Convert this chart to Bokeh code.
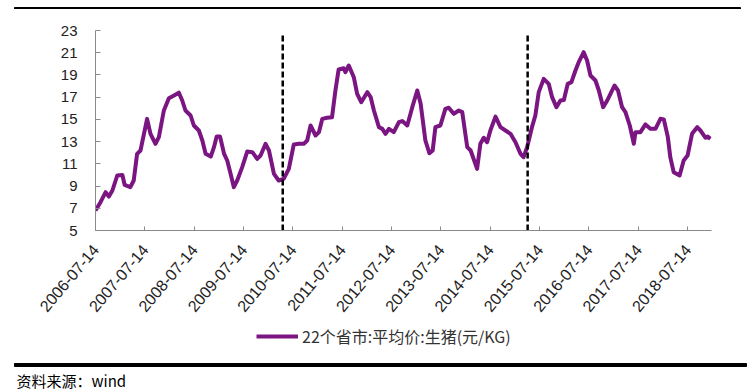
import datetime as dt
from bokeh.plotting import figure
from bokeh.layouts import column
from bokeh.models import (FixedTicker, DatetimeTickFormatter, Legend, LegendItem,
                          Range1d, ColumnDataSource)
from bokeh.core.properties import value
from bokeh.embed import file_html
from bokeh.resources import INLINE

# ---- data ----
dates = [
    "2006-07-14", "2006-08-20", "2006-09-27", "2006-10-21", "2006-11-16", "2006-12-22",
    "2007-01-29", "2007-02-15", "2007-03-29", "2007-04-23", "2007-05-18", "2007-06-12",
    "2007-07-31", "2007-08-25", "2007-10-01", "2007-10-26", "2007-12-02", "2008-01-08",
    "2008-02-15", "2008-03-22", "2008-04-16", "2008-05-10", "2008-06-17", "2008-07-11",
    "2008-08-17", "2008-09-12", "2008-10-06", "2008-11-13", "2008-12-07", "2008-12-27",
    "2009-01-21", "2009-02-20", "2009-03-15", "2009-04-09", "2009-05-03", "2009-05-28",
    "2009-07-04", "2009-08-10", "2009-09-17", "2009-10-23", "2009-11-17", "2009-12-24",
    "2010-01-18", "2010-02-24", "2010-03-31", "2010-05-07", "2010-06-14", "2010-07-21",
    "2010-08-27", "2010-10-03", "2010-10-28", "2010-11-22", "2010-12-29", "2011-01-23",
    "2011-02-17", "2011-03-24", "2011-04-30", "2011-05-25", "2011-06-18", "2011-07-25",
    "2011-08-07", "2011-09-01", "2011-10-08", "2011-11-02", "2011-12-02", "2012-01-16",
    "2012-02-10", "2012-03-05", "2012-04-11", "2012-05-06", "2012-05-30", "2012-06-24",
    "2012-07-30", "2012-09-06", "2012-10-01", "2012-11-07", "2012-12-14", "2013-01-20",
    "2013-02-14", "2013-03-21", "2013-04-20", "2013-05-14", "2013-06-03", "2013-07-10",
    "2013-08-16", "2013-09-10", "2013-10-17", "2013-11-23", "2013-12-19", "2014-01-25",
    "2014-02-19", "2014-04-08", "2014-05-02", "2014-05-27", "2014-06-21", "2014-07-15",
    "2014-08-22", "2014-09-28", "2014-11-04", "2014-12-11", "2015-01-17", "2015-02-23",
    "2015-03-18", "2015-04-13", "2015-05-19", "2015-06-13", "2015-07-08", "2015-08-14",
    "2015-09-20", "2015-10-15", "2015-11-16", "2015-12-16", "2016-01-10", "2016-02-08",
    "2016-03-06", "2016-04-05", "2016-04-29", "2016-06-05", "2016-06-30", "2016-07-25",
    "2016-08-31", "2016-09-25", "2016-10-27", "2016-11-26", "2016-12-20", "2017-01-19",
    "2017-02-14", "2017-03-16", "2017-04-10", "2017-05-12", "2017-06-11", "2017-06-23",
    "2017-07-30", "2017-09-05", "2017-10-12", "2017-11-18", "2017-12-25", "2018-01-19",
    "2018-02-18", "2018-03-08", "2018-04-02", "2018-05-16", "2018-06-15", "2018-07-14",
    "2018-08-16", "2018-09-23", "2018-10-17", "2018-11-23", "2018-12-10", "2018-12-30",
]
prices = [
    6.80, 7.55, 8.45, 8.05, 8.60, 9.95,
    10.00, 9.10, 8.90, 9.50, 11.90, 12.20,
    15.05, 13.70, 12.80, 13.40, 15.80, 16.90,
    17.15, 17.40, 16.70, 15.80, 15.35, 14.45,
    14.00, 13.10, 11.90, 11.65, 12.50, 13.45,
    13.45, 11.90, 11.30, 10.10, 8.90, 9.50,
    10.70, 12.10, 12.05, 11.45, 11.75, 12.80,
    12.20, 10.10, 9.50, 9.65, 10.55, 12.75,
    12.80, 12.80, 13.10, 14.45, 13.55, 13.85,
    15.05, 15.15, 15.20, 17.60, 19.50, 19.60,
    19.25, 19.85, 18.80, 17.30, 16.55, 17.45,
    17.00, 15.80, 14.30, 14.15, 13.70, 14.15,
    13.85, 14.75, 14.85, 14.45, 16.10, 17.60,
    16.40, 13.10, 11.95, 12.20, 14.30, 14.45,
    15.95, 16.05, 15.50, 15.80, 15.65, 12.50,
    12.20, 10.55, 12.80, 13.35, 12.95, 14.00,
    15.25, 14.30, 14.00, 13.70, 12.95, 11.90,
    11.60, 12.50, 14.30, 15.35, 17.45, 18.65,
    18.20, 17.00, 16.10, 16.70, 16.75, 18.20,
    18.35, 19.40, 20.15, 21.05, 20.30, 18.95,
    18.50, 17.60, 16.10, 16.70, 17.30, 18.05,
    17.60, 16.10, 15.65, 14.45, 12.80, 13.85,
    13.85, 14.55, 14.15, 14.15, 15.05, 15.00,
    13.40, 11.60, 10.25, 9.95, 11.30, 11.75,
    13.70, 14.30, 14.00, 13.35, 13.45, 13.25,
]
event_dates = ["2010-04-30", "2015-04-17"]
event_top = 22.8
tick_dates = ["2006-07-14", "2007-07-14", "2008-07-14", "2009-07-14", "2010-07-14",
              "2011-07-14", "2012-07-14", "2013-07-14", "2014-07-14", "2015-07-14",
              "2016-07-14", "2017-07-14", "2018-07-14"]
x_start, x_end = "2006-07-14", "2019-01-07"
y_ticks = [5, 7, 9, 11, 13, 15, 17, 19, 21, 23]
series_name = "22个省市:平均价:生猪(元/KG)"
source_note = "资料来源：wind"


def to_dt(s):
    return dt.datetime.strptime(s, "%Y-%m-%d")


def to_ms(s):
    return (to_dt(s) - dt.datetime(1970, 1, 1)).total_seconds() * 1000.0


LINE_COLOR = "#7A1582"
FONT = "Liberation Sans"
CJK = "Noto Sans CJK SC"
W = 750


def strip_fig(height):
    f = figure(width=W, height=height, min_border=0, x_axis_location=None,
               y_axis_location=None, toolbar_location=None, output_backend="svg",
               x_range=Range1d(0, W), y_range=Range1d(height, 0), frame_align=False)
    f.outline_line_color = None
    f.xgrid.visible = False
    f.ygrid.visible = False
    return f


src = ColumnDataSource(dict(date=[to_dt(d) for d in dates], price=prices))

# ---- top rule ----
top = strip_fig(9)
top.quad(left=[14], right=[740], top=[4], bottom=[7], color="black")

# ---- main chart ----
p = figure(frame_width=616, frame_height=200,
           min_border_left=95, min_border_right=39, min_border_top=21, min_border_bottom=92,
           x_axis_type="datetime", output_backend="svg", toolbar_location=None,
           x_range=Range1d(to_dt(x_start), to_dt(x_end)), y_range=Range1d(5, 23),
           background_fill_color="white", border_fill_color="white", frame_align=False)
p.outline_line_color = None
p.xgrid.visible = False
p.ygrid.visible = False

r = p.line(x="date", y="price", source=src, line_color=LINE_COLOR, line_width=4,
           line_join="round")

ev = ColumnDataSource(dict(x=[to_dt(d) for d in event_dates],
                           y0=[5] * len(event_dates), y1=[event_top] * len(event_dates)))
p.segment(x0="x", y0="y0", x1="x", y1="y1", source=ev, line_color="black",
          line_width=2.5, line_dash="6 3")

xa = p.xaxis[0]
xa.ticker = FixedTicker(ticks=[to_ms(d) for d in tick_dates])
fmt = "%Y-%m-%d"
xa.formatter = DatetimeTickFormatter(microseconds=fmt, milliseconds=fmt, seconds=fmt,
                                     minsec=fmt, minutes=fmt, hourmin=fmt, hours=fmt,
                                     days=fmt, months=fmt, years=fmt)
xa.major_label_orientation = 0.87
xa.major_tick_in = 4
xa.major_tick_out = 0
xa.minor_tick_line_color = None
xa.axis_line_color = "#8a8a8a"
xa.major_tick_line_color = "#8a8a8a"
xa.major_label_text_font = FONT
xa.major_label_text_font_size = "16px"
xa.major_label_text_color = "#222222"
xa.major_label_standoff = 16

ya = p.yaxis[0]
ya.ticker = FixedTicker(ticks=y_ticks)
ya.major_tick_in = 5
ya.major_tick_out = 0
ya.minor_tick_line_color = None
ya.axis_line_color = "#8a8a8a"
ya.major_tick_line_color = "#8a8a8a"
ya.major_label_text_font = FONT
ya.major_label_text_font_size = "15px"
ya.major_label_text_color = "#222222"
ya.major_label_standoff = 18

# ---- bottom strip: legend, rule and source ----
BH = 69
bot = strip_fig(BH)
key = bot.line(x="date", y="price", source=src, line_color=LINE_COLOR, line_width=4,
               visible=False)
legend = Legend(items=[LegendItem(label=series_name, renderers=[key])],
                location=(256, 43), orientation="horizontal", click_policy="none",
                glyph_width=42, glyph_height=20, label_height=20, label_standoff=4,
                padding=0, margin=0, border_line_color=None, background_fill_alpha=0,
                inactive_fill_alpha=0,
                label_text_font=CJK, label_text_font_size="16px",
                label_text_color="#333333")
bot.add_layout(legend)
bot.quad(left=[14], right=[746], top=[41], bottom=[44], color="black")
bot.text(x=[16], y=[47], text=[source_note], text_font=value(CJK),
         text_font_size="15px", text_color="black", text_baseline="top")

layout = column(top, p, bot, spacing=0)
open("out.html", "w").write(file_html(layout, INLINE))
